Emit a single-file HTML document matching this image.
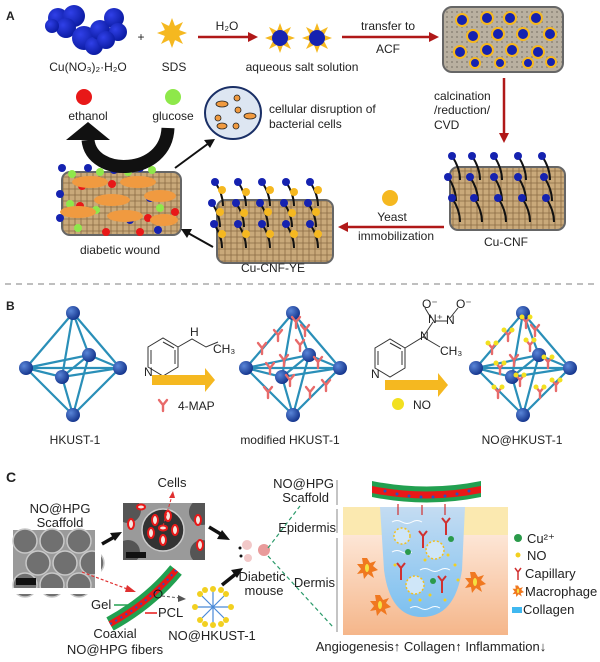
<!DOCTYPE html>
<html><head><meta charset="utf-8"><style>
html,body{margin:0;padding:0;background:#fff;}
svg{display:block;font-family:"Liberation Sans",Arial,sans-serif;}
text{font-size:12px;fill:#222;}
.c text{font-size:13px;}
</style></head><body>
<svg width="600" height="662" viewBox="0 0 600 662" xmlns="http://www.w3.org/2000/svg">
<defs>
<pattern id="tex" width="6" height="6" patternUnits="userSpaceOnUse">
<rect width="6" height="6" fill="#c9a97a"/>
<path d="M0 3h6M3 0v6" stroke="#8a6a44" stroke-width="0.8"/>
</pattern>
<pattern id="gtex" width="5" height="5" patternUnits="userSpaceOnUse">
<rect width="5" height="5" fill="#b9b0a0"/>
<circle cx="2" cy="2" r="1" fill="#8e8678"/>
</pattern>
<radialGradient id="bs" cx="0.35" cy="0.35" r="0.7"><stop offset="0" stop-color="#5a86d8"/><stop offset="1" stop-color="#12328a"/></radialGradient>
<radialGradient id="cl" cx="0.35" cy="0.35" r="0.7"><stop offset="0" stop-color="#3040e8"/><stop offset="1" stop-color="#0a1aa0"/></radialGradient>
<linearGradient id="derm" x1="0" y1="0" x2="0" y2="1"><stop offset="0" stop-color="#fde6d6"/><stop offset="1" stop-color="#f5b68a"/></linearGradient>
<linearGradient id="wnd" x1="0" y1="0" x2="0" y2="1"><stop offset="0" stop-color="#c4dcf2"/><stop offset="1" stop-color="#7cc0f0"/></linearGradient>
<g id="oct">
<g stroke="#2a8fb8" stroke-width="2.2" fill="none">
<path d="M0,-55 L-47,0 L0,47 L47,0 Z M0,-55 L-11,9 L0,47 M0,-55 L16,-13 L0,47 M-47,0 L-11,9 L47,0 L16,-13 Z M-47,0 L47,0 M-11,9 L16,-13"/>
</g>
<g fill="url(#bs)">
<circle cx="0" cy="-55" r="7"/><circle cx="0" cy="47" r="7"/><circle cx="-47" cy="0" r="7"/><circle cx="47" cy="0" r="7"/><circle cx="-11" cy="9" r="7"/><circle cx="16" cy="-13" r="7"/>
</g>
</g>
<g id="sun"><g fill="#f5b820"><polygon points="0,-15 3,-7 -3,-7"/><polygon points="0,15 3,7 -3,7"/><polygon points="-15,0 -7,3 -7,-3"/><polygon points="15,0 7,3 7,-3"/><polygon points="-11,-11 -3,-7 -7,-3"/><polygon points="11,11 3,7 7,3"/><polygon points="11,-11 7,-3 3,-7"/><polygon points="-11,11 -7,3 -3,7"/></g></g>
<g id="ry"><path d="M0,6 L0,0 L-4,-5 M0,0 L4,-5" stroke="#e86a6a" stroke-width="2.4" fill="none" stroke-linecap="round"/></g>
<g id="strand"><path d="M0,0 C4,6 8,14 8,24" stroke="#111" stroke-width="2" fill="none"/><circle cx="0" cy="0" r="4" fill="#1522b0"/></g>
<g id="mac"><polygon points="0,-10 3,-5 9,-7 6,-2 11,2 5,4 7,10 1,6 -3,11 -4,5 -10,6 -6,1 -10,-4 -4,-4 -5,-10" fill="#f07820"/><ellipse cx="0" cy="0" rx="2" ry="4" fill="#f5e040"/></g>
</defs>

<!-- ===== Panel A ===== -->
<text x="6" y="20" font-weight="bold" font-size="14">A</text>
<g fill="url(#cl)">
<circle cx="58" cy="18" r="10"/><circle cx="74" cy="16" r="11"/><circle cx="66" cy="28" r="10"/><circle cx="84" cy="38" r="12"/><circle cx="94" cy="46" r="9"/><circle cx="100" cy="30" r="10"/><circle cx="114" cy="18" r="10"/><circle cx="118" cy="32" r="9"/><circle cx="106" cy="40" r="9"/><circle cx="52" cy="26" r="7"/>
</g>
<text x="141" y="41" font-size="20" text-anchor="middle">+</text>
<use href="#sun" x="172" y="33"/><circle cx="172" cy="33" r="8" fill="#f5b820"/>
<text x="88" y="71" text-anchor="middle">Cu(NO₃)₂·H₂O</text>
<text x="174" y="71" text-anchor="middle">SDS</text>
<line x1="198" y1="37" x2="250" y2="37" stroke="#b01818" stroke-width="2.5"/><polygon points="258,37 248,32 248,42" fill="#b01818"/>
<text x="227" y="30" text-anchor="middle" font-size="11">H₂O</text>
<use href="#sun" x="280" y="38"/><circle cx="280" cy="38" r="8" fill="#1522b0"/>
<use href="#sun" x="317" y="38"/><circle cx="317" cy="38" r="8" fill="#1522b0"/>
<text x="302" y="71" text-anchor="middle">aqueous salt solution</text>
<line x1="342" y1="37" x2="430" y2="37" stroke="#b01818" stroke-width="2.5"/><polygon points="439,37 429,32 429,42" fill="#b01818"/>
<text x="388" y="30" text-anchor="middle">transfer to</text>
<text x="388" y="53" text-anchor="middle">ACF</text>
<rect x="443" y="7" width="120" height="65" rx="9" fill="url(#gtex)" stroke="#666" stroke-width="2"/>
<g fill="#1522b0" stroke="#f5b820" stroke-width="2">
<circle cx="462" cy="20" r="6"/><circle cx="487" cy="18" r="6"/><circle cx="510" cy="18" r="6"/><circle cx="536" cy="18" r="6"/>
<circle cx="473" cy="36" r="6"/><circle cx="498" cy="34" r="6"/><circle cx="523" cy="34" r="6"/><circle cx="550" cy="34" r="6"/>
<circle cx="460" cy="52" r="6"/><circle cx="487" cy="50" r="6"/><circle cx="512" cy="50" r="6"/><circle cx="538" cy="52" r="6"/>
<circle cx="475" cy="63" r="5"/><circle cx="500" cy="63" r="5"/><circle cx="528" cy="63" r="5"/><circle cx="551" cy="62" r="5"/>
</g>
<line x1="504" y1="78" x2="504" y2="134" stroke="#b01818" stroke-width="2.5"/><polygon points="504,143 499,133 509,133" fill="#b01818"/>
<text x="434" y="100">calcination</text><text x="434" y="114">/reduction/</text><text x="434" y="129">CVD</text>
<rect x="450" y="167" width="115" height="63" rx="8" fill="url(#tex)" stroke="#666" stroke-width="2"/>
<g>
<use href="#strand" x="452" y="156"/><use href="#strand" x="472" y="156"/><use href="#strand" x="494" y="156"/><use href="#strand" x="518" y="156"/><use href="#strand" x="542" y="156"/>
<use href="#strand" x="448" y="177"/><use href="#strand" x="470" y="177"/><use href="#strand" x="494" y="177"/><use href="#strand" x="518" y="177"/><use href="#strand" x="544" y="177"/>
<use href="#strand" x="452" y="198"/><use href="#strand" x="474" y="198"/><use href="#strand" x="498" y="198"/><use href="#strand" x="522" y="198"/><use href="#strand" x="546" y="198"/>
</g>
<text x="506" y="246" text-anchor="middle">Cu-CNF</text>
<circle cx="390" cy="198" r="8" fill="#f5b820"/>
<text x="392" y="221" text-anchor="middle">Yeast</text>
<text x="396" y="240" text-anchor="middle">immobilization</text>
<line x1="444" y1="227" x2="346" y2="227" stroke="#b01818" stroke-width="2.5"/><polygon points="338,227 348,222 348,232" fill="#b01818"/>
<rect x="217" y="200" width="116" height="63" rx="8" fill="url(#tex)" stroke="#666" stroke-width="2"/>
<g>
<use href="#strand" x="215" y="182"/><use href="#strand" x="238" y="182"/><use href="#strand" x="262" y="182"/><use href="#strand" x="286" y="182"/><use href="#strand" x="310" y="182"/>
<use href="#strand" x="212" y="203"/><use href="#strand" x="236" y="203"/><use href="#strand" x="260" y="203"/><use href="#strand" x="284" y="203"/><use href="#strand" x="308" y="203"/>
<use href="#strand" x="214" y="224"/><use href="#strand" x="238" y="224"/><use href="#strand" x="262" y="224"/><use href="#strand" x="286" y="224"/><use href="#strand" x="310" y="224"/>
</g>
<g fill="#f5b820"><circle cx="222" cy="190" r="4"/><circle cx="246" cy="192" r="4"/><circle cx="270" cy="190" r="4"/><circle cx="294" cy="192" r="4"/><circle cx="318" cy="190" r="4"/><circle cx="220" cy="212" r="4"/><circle cx="244" cy="213" r="4"/><circle cx="268" cy="212" r="4"/><circle cx="292" cy="213" r="4"/><circle cx="316" cy="212" r="4"/><circle cx="222" cy="234" r="4"/><circle cx="246" cy="234" r="4"/><circle cx="270" cy="234" r="4"/><circle cx="294" cy="234" r="4"/><circle cx="318" cy="234" r="4"/></g>
<text x="273" y="272" text-anchor="middle">Cu-CNF-YE</text>
<rect x="62" y="172" width="119" height="63" rx="8" fill="url(#tex)" stroke="#666" stroke-width="2"/>
<g fill="#1522b0"><circle cx="62" cy="168" r="4"/><circle cx="88" cy="168" r="4"/><circle cx="114" cy="170" r="4"/><circle cx="140" cy="168" r="4"/><circle cx="60" cy="194" r="4"/><circle cx="150" cy="198" r="4"/><circle cx="60" cy="218" r="4"/><circle cx="130" cy="220" r="4"/><circle cx="158" cy="230" r="4"/></g>
<g fill="#8ee84a"><circle cx="72" cy="174" r="4"/><circle cx="100" cy="172" r="4"/><circle cx="128" cy="172" r="4"/><circle cx="152" cy="170" r="4"/><circle cx="70" cy="204" r="4"/><circle cx="96" cy="210" r="4"/><circle cx="160" cy="208" r="4"/><circle cx="78" cy="228" r="4"/><circle cx="170" cy="220" r="4"/></g>
<g fill="#e81818"><circle cx="82" cy="186" r="4"/><circle cx="112" cy="184" r="4"/><circle cx="80" cy="206" r="4"/><circle cx="148" cy="218" r="4"/><circle cx="106" cy="232" r="4"/><circle cx="140" cy="232" r="4"/><circle cx="175" cy="212" r="4"/></g>
<g fill="#f09a40"><ellipse cx="90" cy="182" rx="18" ry="6"/><ellipse cx="138" cy="182" rx="18" ry="6"/><ellipse cx="112" cy="200" rx="18" ry="6"/><ellipse cx="160" cy="196" rx="16" ry="6"/><ellipse cx="78" cy="212" rx="18" ry="6"/><ellipse cx="125" cy="216" rx="18" ry="6"/><ellipse cx="164" cy="220" rx="14" ry="6"/></g>
<text x="120" y="254" text-anchor="middle">diabetic wound</text>
<line x1="213" y1="247" x2="188" y2="233" stroke="#111" stroke-width="2"/><polygon points="181,229 192,229 187,238" fill="#111"/>
<path d="M168,128 C166,176 92,178 88,140" stroke="#111" stroke-width="13" fill="none"/>
<polygon points="66,140 110,140 88,122" fill="#111"/>
<circle cx="84" cy="97" r="8" fill="#e81818"/><text x="88" y="120" text-anchor="middle">ethanol</text>
<circle cx="173" cy="97" r="8" fill="#8ee84a"/><text x="173" y="120" text-anchor="middle">glucose</text>
<line x1="175" y1="168" x2="209" y2="143" stroke="#111" stroke-width="2"/><polygon points="215,139 204,140 210,148" fill="#111"/>
<ellipse cx="233" cy="113" rx="28" ry="26" fill="#dde6f2" stroke="#1a2f66" stroke-width="2"/>
<g fill="#f09a40" stroke="#222" stroke-width="0.8"><ellipse cx="222" cy="104" rx="6" ry="3"/><ellipse cx="237" cy="98" rx="3" ry="3"/><ellipse cx="218" cy="118" rx="3" ry="3"/><ellipse cx="250" cy="116" rx="6" ry="3"/><ellipse cx="238" cy="110" rx="3" ry="3"/><ellipse cx="236" cy="126" rx="3" ry="3"/><ellipse cx="222" cy="126" rx="5" ry="3"/></g>
<text x="269" y="113">cellular disruption of</text>
<text x="269" y="128">bacterial cells</text>

<line x1="5" y1="284" x2="598" y2="284" stroke="#999" stroke-width="1.2" stroke-dasharray="6,5"/>

<!-- ===== Panel B ===== -->
<text x="6" y="310" font-weight="bold" font-size="14">B</text>
<use href="#oct" x="73" y="368"/>
<use href="#oct" x="293" y="368"/>
<use href="#oct" x="523" y="368"/>
<g>
<use href="#ry" x="262" y="348"/><use href="#ry" x="278" y="335"/><use href="#ry" x="300" y="345"/><use href="#ry" x="318" y="362"/><use href="#ry" x="270" y="368"/><use href="#ry" x="290" y="380"/><use href="#ry" x="310" y="392"/><use href="#ry" x="268" y="392"/><use href="#ry" x="296" y="322"/><use href="#ry" x="326" y="385"/><use href="#ry" x="284" y="360"/><use href="#ry" x="305" y="330"/>
<use href="#ry" x="492" y="348"/><use href="#ry" x="508" y="335"/><use href="#ry" x="530" y="345"/><use href="#ry" x="548" y="362"/><use href="#ry" x="500" y="368"/><use href="#ry" x="520" y="380"/><use href="#ry" x="540" y="392"/><use href="#ry" x="498" y="392"/><use href="#ry" x="526" y="322"/><use href="#ry" x="556" y="385"/><use href="#ry" x="514" y="360"/><use href="#ry" x="535" y="330"/>
</g>
<g fill="#f2e020"><circle cx="488" cy="343" r="2.5"/><circle cx="496" cy="343" r="2.5"/><circle cx="504" cy="330" r="2.5"/><circle cx="512" cy="330" r="2.5"/><circle cx="526" cy="340" r="2.5"/><circle cx="534" cy="340" r="2.5"/><circle cx="544" cy="357" r="2.5"/><circle cx="552" cy="357" r="2.5"/><circle cx="496" cy="363" r="2.5"/><circle cx="504" cy="363" r="2.5"/><circle cx="516" cy="375" r="2.5"/><circle cx="524" cy="375" r="2.5"/><circle cx="536" cy="387" r="2.5"/><circle cx="544" cy="387" r="2.5"/><circle cx="494" cy="387" r="2.5"/><circle cx="502" cy="387" r="2.5"/><circle cx="522" cy="317" r="2.5"/><circle cx="530" cy="317" r="2.5"/><circle cx="552" cy="380" r="2.5"/><circle cx="560" cy="380" r="2.5"/></g>
<g stroke="#333" stroke-width="1" fill="none">
<path d="M148,347 L148,367 L163,376 L178,367 L178,347 L163,338 Z M151,350 L151,364 M175,350 L175,364 M163,342 L174,348"/>
<path d="M178,347 L192,339 L206,347 L218,342"/>
</g>
<text x="144" y="376" font-size="8">N</text><text x="190" y="336" font-size="8">H</text><text x="213" y="353" font-size="8">CH₃</text>
<polygon points="152,375 205,375 205,368 215,380 205,392 205,385 152,385" fill="#f5b820"/>
<use href="#ry" x="163" y="405"/>
<text x="178" y="410">4-MAP</text>
<g stroke="#333" stroke-width="1" fill="none">
<path d="M375,348 L375,368 L390,377 L405,368 L405,348 L390,339 Z M378,351 L378,365 M402,351 L402,365 M390,343 L401,349"/>
<path d="M405,348 L423,337 L440,347 M423,337 L433,322 M435,321 L448,321 M450,318 L458,308 M431,318 L425,308"/>
</g>
<text x="371" y="378" font-size="8">N</text><text x="420" y="340" font-size="8">N</text><text x="428" y="323" font-size="8">N⁺</text><text x="446" y="324" font-size="8">N</text><text x="422" y="308" font-size="8">O⁻</text><text x="456" y="308" font-size="8">O⁻</text><text x="440" y="355" font-size="8">CH₃</text>
<polygon points="385,380 438,380 438,373 448,385 438,397 438,390 385,390" fill="#f5b820"/>
<circle cx="398" cy="404" r="6" fill="#f2e020"/>
<text x="413" y="409">NO</text>
<text x="75" y="444" text-anchor="middle">HKUST-1</text>
<text x="290" y="444" text-anchor="middle">modified HKUST-1</text>
<text x="522" y="444" text-anchor="middle">NO@HKUST-1</text>

<!-- ===== Panel C ===== -->
<g class="c">
<text x="6" y="482" font-weight="bold" style="font-size:14px">C</text>
<text x="60" y="513" text-anchor="middle">NO@HPG</text>
<text x="60" y="527" text-anchor="middle">Scaffold</text>
<rect x="13" y="530" width="82" height="58" fill="#9a9a9a"/>
<g fill="#707070" stroke="#c8c8c8" stroke-width="1.5"><circle cx="25" cy="541" r="12"/><circle cx="52" cy="541" r="12"/><circle cx="79" cy="541" r="12"/><circle cx="38" cy="563" r="12"/><circle cx="65" cy="563" r="12"/><circle cx="92" cy="563" r="12"/><circle cx="25" cy="585" r="12"/><circle cx="52" cy="585" r="12"/><circle cx="79" cy="585" r="12"/></g>
<rect x="13" y="588" width="84" height="6" fill="#fff"/>
<rect x="95" y="528" width="6" height="62" fill="#fff"/>
<rect x="16" y="578" width="20" height="7" fill="#111"/>
<rect x="123" y="503" width="82" height="57" fill="#9a9a9a"/>
<circle cx="163" cy="530" r="21" fill="#333" stroke="#ccc" stroke-width="1.5"/>
<circle cx="128" cy="510" r="13" fill="#555"/><circle cx="202" cy="512" r="13" fill="#555"/><circle cx="128" cy="552" r="12" fill="#555"/><circle cx="202" cy="552" r="12" fill="#555"/>
<rect x="205" y="495" width="10" height="70" fill="#fff"/><rect x="113" y="495" width="10" height="70" fill="#fff"/><rect x="113" y="560" width="100" height="8" fill="#fff"/><rect x="113" y="495" width="100" height="8" fill="#fff"/>
<g fill="#f4e6e0" stroke="#e81818" stroke-width="2"><ellipse cx="155" cy="520" rx="3" ry="5"/><ellipse cx="168" cy="516" rx="3" ry="5"/><ellipse cx="175" cy="530" rx="3" ry="5"/><ellipse cx="163" cy="540" rx="3" ry="5"/><ellipse cx="151" cy="533" rx="3" ry="5"/><ellipse cx="163" cy="528" rx="4" ry="2.5"/><ellipse cx="131" cy="524" rx="3" ry="5"/><ellipse cx="141" cy="507" rx="4" ry="2.5"/><ellipse cx="198" cy="520" rx="3" ry="5"/><ellipse cx="200" cy="545" rx="3" ry="5"/></g>
<rect x="126" y="552" width="20" height="6" fill="#111"/>
<text x="172" y="487" text-anchor="middle">Cells</text>
<line x1="163" y1="526" x2="172" y2="496" stroke="#e03030" stroke-width="1" stroke-dasharray="3,2"/><polygon points="173,491 169,498 175,498" fill="#e03030"/>
<line x1="102" y1="544" x2="116" y2="536" stroke="#111" stroke-width="3.5"/><polygon points="122,532 110,533 115,541" fill="#111"/>
<line x1="209" y1="527" x2="224" y2="536" stroke="#111" stroke-width="3.5"/><polygon points="230,540 217,539 222,530" fill="#111"/>
<line x1="82" y1="572" x2="130" y2="590" stroke="#e03030" stroke-width="1.2" stroke-dasharray="3,2"/><polygon points="136,592 127,585 125,592" fill="#e03030"/>
<path d="M110,624 Q150,602 176,570" stroke="#22a050" stroke-width="15" fill="none"/>
<path d="M110,624 Q150,602 176,570" stroke="#e81818" stroke-width="6" fill="none"/>
<path d="M110,624 Q150,602 176,570" stroke="#2a50c0" stroke-width="2" fill="none" stroke-dasharray="2,4"/>
<circle cx="158" cy="594" r="4" fill="none" stroke="#111" stroke-width="1"/>
<line x1="162" y1="596" x2="180" y2="598" stroke="#555" stroke-width="1" stroke-dasharray="3,2"/><polygon points="186,599 178,595 178,602" fill="#555"/>
<line x1="130" y1="605" x2="114" y2="605" stroke="#22a050" stroke-width="1.5"/>
<text x="91" y="609">Gel</text>
<line x1="145" y1="613" x2="157" y2="613" stroke="#e81818" stroke-width="1.5"/>
<text x="158" y="617">PCL</text>
<text x="115" y="638" text-anchor="middle">Coaxial</text>
<text x="115" y="654" text-anchor="middle">NO@HPG fibers</text>
<g stroke="#4a8ad8" stroke-width="1.2"><path d="M213,607 L213,591 M213,607 L229,607 M213,607 L213,623 M213,607 L197,607 M213,607 L224,596 M213,607 L202,618 M213,607 L224,618 M213,607 L202,596"/></g>
<g fill="#f2d020"><circle cx="213" cy="589" r="3"/><circle cx="231" cy="607" r="3"/><circle cx="213" cy="625" r="3"/><circle cx="195" cy="607" r="3"/><circle cx="226" cy="594" r="3"/><circle cx="200" cy="620" r="3"/><circle cx="226" cy="620" r="3"/><circle cx="200" cy="594" r="3"/><circle cx="221" cy="590" r="3"/><circle cx="205" cy="590" r="3"/><circle cx="221" cy="624" r="3"/><circle cx="205" cy="624" r="3"/></g>
<text x="212" y="640" text-anchor="middle">NO@HKUST-1</text>
<line x1="222" y1="585" x2="237" y2="573" stroke="#111" stroke-width="3.5"/><polygon points="243,568 231,570 237,578" fill="#111"/>
<circle cx="247" cy="545" r="5" fill="#f2c8c8"/><circle cx="264" cy="550" r="6" fill="#e07070" opacity="0.7"/><circle cx="248" cy="558" r="4" fill="#f2c8c8"/>
<circle cx="240" cy="548" r="1.5" fill="#111"/><circle cx="241" cy="556" r="1.5" fill="#111"/>
<text x="262" y="581" text-anchor="middle">Diabetic</text>
<text x="264" y="595" text-anchor="middle">mouse</text>
<line x1="268" y1="548" x2="300" y2="506" stroke="#2a9a6a" stroke-width="1.2" stroke-dasharray="4,3"/>
<line x1="268" y1="556" x2="333" y2="627" stroke="#2a9a6a" stroke-width="1.2" stroke-dasharray="4,3"/>
<text x="334" y="488" text-anchor="end">NO@HPG</text>
<text x="329" y="502" text-anchor="end">Scaffold</text>
<line x1="337" y1="480" x2="337" y2="505" stroke="#888" stroke-width="1"/>
<line x1="337" y1="509" x2="337" y2="533" stroke="#888" stroke-width="1"/>
<line x1="337" y1="538" x2="337" y2="632" stroke="#888" stroke-width="1"/>
<text x="336" y="532" text-anchor="end">Epidermis</text>
<text x="335" y="587" text-anchor="end">Dermis</text>
<rect x="343" y="535" width="165" height="100" fill="url(#derm)"/>
<rect x="343" y="507" width="165" height="28" fill="#fbe9b0"/>
<path d="M380,507 L465,507 L462,570 Q455,617 422,617 Q390,617 384,570 Z" fill="url(#wnd)"/>
<path d="M372,481 Q427,492 481,481 L481,497 Q427,508 372,497 Z" fill="#22a050"/>
<path d="M372,486 Q427,497 481,486 L481,493 Q427,504 372,493 Z" fill="#e81818"/>
<g fill="#2a50c0"><circle cx="385" cy="491" r="1.5"/><circle cx="397" cy="494" r="1.5"/><circle cx="409" cy="496" r="1.5"/><circle cx="421" cy="497" r="1.5"/><circle cx="433" cy="497" r="1.5"/><circle cx="445" cy="496" r="1.5"/><circle cx="457" cy="494" r="1.5"/><circle cx="469" cy="491" r="1.5"/></g>
<g stroke="#d03030" stroke-width="1.2"><line x1="398" y1="504" x2="398" y2="515"/><line x1="422" y1="505" x2="422" y2="515"/><line x1="445" y1="504" x2="445" y2="515"/></g>
<g stroke="#fff" stroke-width="1" fill="none"><path d="M392,522 q5,-3 10,0 t10,0 t10,0"/><path d="M392,552 q5,-3 10,0 t10,0"/><path d="M420,570 q5,-3 10,0 t10,0 t10,0"/><path d="M410,608 q5,-3 10,0 t10,0 t10,0"/></g>
<g stroke="#d03030" stroke-width="2" fill="none"><path d="M446,535 v-12 l-4,-5 M446,523 l4,-5"/><path d="M423,548 v-12 l-4,-5 M423,536 l4,-5"/><path d="M401,580 v-12 l-4,-5 M401,568 l4,-5"/><path d="M442,593 v-12 l-4,-5 M442,581 l4,-5"/></g>
<g fill="#cfe6f8" stroke="#f2c020" stroke-width="1.5" stroke-dasharray="2,2"><circle cx="402" cy="536" r="8"/><circle cx="435" cy="550" r="9"/><circle cx="415" cy="585" r="9"/></g>
<g fill="#2a9a4a"><circle cx="451" cy="539" r="3"/><circle cx="408" cy="552" r="3"/><circle cx="433" cy="581" r="3"/></g>
<g fill="#f2d020"><circle cx="425" cy="560" r="1.5"/><circle cx="455" cy="565" r="1.5"/><circle cx="430" cy="595" r="1.5"/><circle cx="445" cy="600" r="1.5"/><circle cx="458" cy="580" r="1.5"/><circle cx="395" cy="565" r="1.5"/><circle cx="410" cy="600" r="1.5"/><circle cx="420" cy="600" r="1.5"/><circle cx="448" cy="555" r="1.5"/></g>
<use href="#mac" x="367" y="568"/><use href="#mac" x="380" y="605"/><use href="#mac" x="475" y="582"/>
<circle cx="518" cy="538" r="4" fill="#2a9a4a"/><text x="527" y="543">Cu²⁺</text>
<circle cx="518" cy="555" r="2.5" fill="#f2d020"/><text x="527" y="560">NO</text>
<path d="M518,580 v-8 l-3,-4 M518,572 l3,-4" stroke="#d03030" stroke-width="1.5" fill="none"/><text x="525" y="578">Capillary</text>
<g transform="translate(518,591) scale(0.55)"><use href="#mac"/></g><text x="525" y="596">Macrophage</text>
<rect x="512" y="607" width="10" height="6" fill="#40b8f0"/><text x="523" y="614">Collagen</text>
<text x="431" y="651" text-anchor="middle">Angiogenesis↑ Collagen↑ Inflammation↓</text>
</g>
</svg>
</body></html>
